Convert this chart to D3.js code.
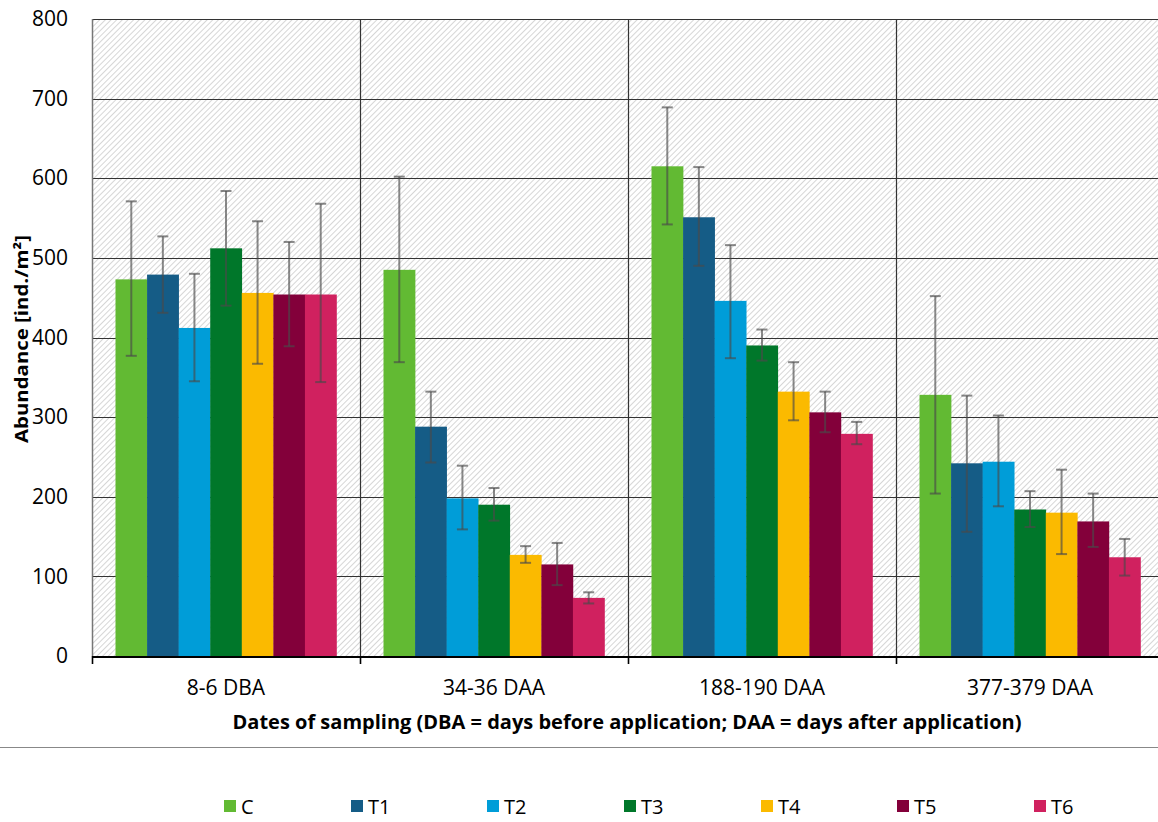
<!DOCTYPE html>
<html><head><meta charset="utf-8">
<script src="https://cdn.jsdelivr.net/npm/d3@7"></script>
<style>
html,body{margin:0;padding:0;background:#fff;}
svg{display:block;}
text{font-family:"Open Sans","Liberation Sans",Arial,sans-serif;fill:#000;}
</style></head>
<body>
<svg id="chart" width="1158" height="822"></svg>
<script>
const categories = ["8-6 DBA", "34-36 DAA", "188-190 DAA", "377-379 DAA"];
const series = ["C", "T1", "T2", "T3", "T4", "T5", "T6"];
const colors = ["#62BA33", "#155C86", "#009DD8", "#00772A", "#FBBA00", "#83003A", "#D0215F"];
// mean values per series, one per category
const values = {
  C:  [473, 485, 615, 328],
  T1: [479, 288, 551, 242],
  T2: [412, 198, 446, 244],
  T3: [512, 190, 390, 184],
  T4: [456, 127, 332, 180],
  T5: [454, 115, 306, 169],
  T6: [454, 73, 279, 124]
};
const errUpper = {
  C:  [571, 602, 689, 452],
  T1: [527, 332, 614, 327],
  T2: [480, 239, 516, 302],
  T3: [584, 211, 410, 207],
  T4: [546, 138, 369, 234],
  T5: [520, 142, 332, 204],
  T6: [568, 80, 294, 147]
};
const errLower = {
  C:  [377, 369, 542, 204],
  T1: [431, 243, 490, 156],
  T2: [345, 159, 374, 188],
  T3: [440, 170, 371, 162],
  T4: [367, 117, 296, 128],
  T5: [389, 89, 281, 137],
  T6: [344, 66, 266, 101]
};
const yTicks = [0, 100, 200, 300, 400, 500, 600, 700, 800];
const yTitle = "Abundance [ind./m²]";
const xTitle = "Dates of sampling (DBA = days before application; DAA = days after application)";

const svg = d3.select("#chart");
const pL = 92, pR = 1164, pT = 19, pB = 656;

const x = d3.scaleBand().domain(categories).range([pL, pR]).padding(0);
const xi = d3.scaleBand().domain(series).range([23.5, x.bandwidth() - 23.5]).padding(0);
const y = d3.scaleLinear().domain([0, 800]).range([pB, pT]);

// hatch pattern
const defs = svg.append("defs");
const pat = defs.append("pattern").attr("id", "hatch").attr("patternUnits", "userSpaceOnUse")
  .attr("width", 4).attr("height", 4).attr("patternTransform", "rotate(45)");
pat.append("rect").attr("width", 4).attr("height", 4).attr("fill", "#ffffff");
pat.append("line").attr("x1", 0).attr("y1", 0).attr("x2", 0).attr("y2", 4)
  .attr("stroke", "#cccccc").attr("stroke-width", 1.6);

svg.append("rect").attr("x", pL).attr("y", pT).attr("width", pR - pL).attr("height", pB - pT)
  .attr("fill", "url(#hatch)");

// horizontal gridlines
svg.append("g").selectAll("line").data(yTicks.filter(d => d > 0)).join("line")
  .attr("x1", pL).attr("x2", pR)
  .attr("y1", d => Math.round(y(d)) + 0.5).attr("y2", d => Math.round(y(d)) + 0.5)
  .attr("stroke", "#333").attr("stroke-width", 1.2);

// vertical category separators
svg.append("g").selectAll("line").data(categories.slice(1)).join("line")
  .attr("x1", d => Math.round(x(d)) + 0.5).attr("x2", d => Math.round(x(d)) + 0.5)
  .attr("y1", pT).attr("y2", pB)
  .attr("stroke", "#333").attr("stroke-width", 1.2);

// left axis line
svg.append("line").attr("x1", pL + 0.5).attr("x2", pL + 0.5).attr("y1", pT).attr("y2", pB)
  .attr("stroke", "#777").attr("stroke-width", 1.5);

// bars
const bars = [];
categories.forEach((c, ci) => series.forEach((s, si) => bars.push({c, s, si, v: values[s][ci], hi: errUpper[s][ci], lo: errLower[s][ci]})));
svg.append("g").selectAll("rect").data(bars).join("rect")
  .attr("x", d => x(d.c) + xi(d.s))
  .attr("width", xi.bandwidth() + 0.3)
  .attr("y", d => y(d.v))
  .attr("height", d => y(0) - y(d.v))
  .attr("fill", d => colors[d.si]);

// error bars
const eg = svg.append("g").attr("stroke", "#4a4a4a").attr("stroke-opacity", 0.65).attr("stroke-width", 2);
bars.forEach(d => {
  const cx = x(d.c) + xi(d.s) + xi.bandwidth() / 2;
  eg.append("line").attr("x1", cx).attr("x2", cx).attr("y1", y(d.hi)).attr("y2", y(d.lo));
  eg.append("line").attr("x1", cx - 5.5).attr("x2", cx + 5.5).attr("y1", y(d.hi)).attr("y2", y(d.hi));
  eg.append("line").attr("x1", cx - 5.5).attr("x2", cx + 5.5).attr("y1", y(d.lo)).attr("y2", y(d.lo));
});

// x axis
svg.append("line").attr("x1", pL).attr("x2", pR).attr("y1", pB + 1).attr("y2", pB + 1)
  .attr("stroke", "#000").attr("stroke-width", 2.2);
svg.append("g").selectAll("line").data(categories).join("line")
  .attr("x1", d => Math.round(x(d)) + 0.5)
  .attr("x2", d => Math.round(x(d)) + 0.5)
  .attr("y1", pB).attr("y2", pB + 8)
  .attr("stroke", "#000").attr("stroke-width", 1.6);

svg.append("g").selectAll("text").data(categories).join("text")
  .attr("x", d => x(d) + x.bandwidth() / 2)
  .attr("y", 695)
  .attr("text-anchor", "middle").attr("font-size", 21)
  .text(d => d);

// y axis labels
const yAxis = d3.axisLeft(y).tickValues(yTicks).tickSize(0).tickPadding(24);
const ya = svg.append("g").attr("transform", `translate(${pL},0)`).call(yAxis);
ya.select(".domain").remove();
ya.selectAll("text").attr("font-size", 21).attr("font-family", '"Open Sans","Liberation Sans",Arial,sans-serif').attr("fill", "#000");

// axis titles
svg.append("text").attr("transform", "translate(28,339) rotate(-90)")
  .attr("text-anchor", "middle").attr("font-size", 18).attr("font-weight", "bold")
  .attr("textLength", 208).attr("lengthAdjust", "spacingAndGlyphs")
  .text(yTitle);
svg.append("text").attr("x", 627).attr("y", 729)
  .attr("text-anchor", "middle").attr("font-size", 19).attr("font-weight", "bold")
  .attr("textLength", 789).attr("lengthAdjust", "spacingAndGlyphs")
  .text(xTitle);

// separator line
svg.append("line").attr("x1", 0).attr("x2", 1158).attr("y1", 747.5).attr("y2", 747.5)
  .attr("stroke", "#888").attr("stroke-width", 1);

// legend
const legendX = [224, 351, 487, 624, 761, 897, 1034];
const lg = svg.append("g");
series.forEach((s, i) => {
  lg.append("rect").attr("x", legendX[i]).attr("y", 800).attr("width", 12).attr("height", 12).attr("fill", colors[i]);
  lg.append("text").attr("x", legendX[i] + 17).attr("y", 814).attr("font-size", 20).text(s);
});
</script>
</body></html>
